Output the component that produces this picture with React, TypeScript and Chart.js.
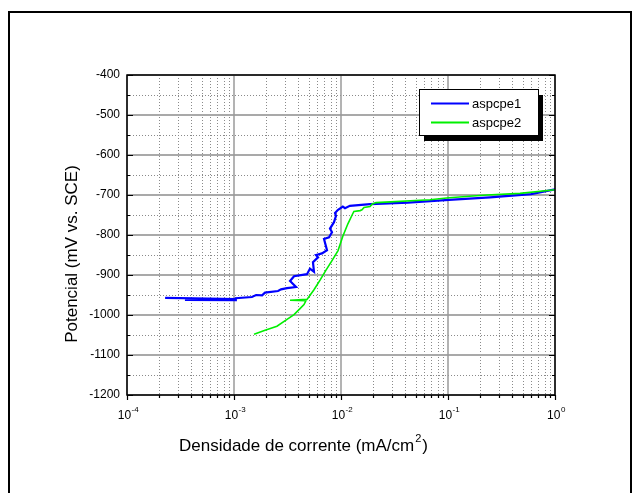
import React, { useEffect, useRef } from 'react';
import { Chart, registerables } from 'chart.js';
Chart.register(...registerables);

const seriesNames = ['aspcpe1', 'aspcpe2'];
const seriesColors = ['#0000ff', '#00f000'];

const blueCurrent = [2.27e-4, 1.04e-3, 3.48e-4, 1.04e-3, 1.04e-3, 1.47e-3, 1.61e-3, 1.83e-3, 1.95e-3, 2.58e-3, 2.75e-3, 3.13e-3, 3.80e-3, 3.34e-3, 3.64e-3, 4.81e-3, 5.13e-3, 5.59e-3, 5.47e-3, 6.10e-3, 5.84e-3, 6.64e-3, 7.40e-3, 6.94e-3, 7.73e-3, 8.24e-3, 7.89e-3, 8.60e-3, 8.98e-3, 8.79e-3, 9.38e-3, 1.04e-2, 1.09e-2, 1.21e-2, 1.87e-2, 4.23e-2, 0.102, 0.247, 0.597, 1.0];
const bluePotential = [-957, -960, -962, -963, -958, -955, -950, -951, -944, -940, -936, -933, -930, -915, -903, -898, -884, -892, -868, -856, -850, -846, -838, -810, -806, -793, -784, -768, -752, -745, -737, -729, -733, -727, -723, -719, -712, -706, -698, -686];

const greenCurrent = [1.54e-3, 1.95e-3, 2.52e-3, 3.13e-3, 3.64e-3, 4.14e-3, 4.51e-3, 4.71e-3, 3.34e-3, 4.81e-3, 5.59e-3, 6.37e-3, 7.24e-3, 8.24e-3, 9.38e-3, 1.04e-2, 1.16e-2, 1.27e-2, 1.32e-2, 1.51e-2, 1.57e-2, 1.64e-2, 1.87e-2, 1.95e-2, 2.12e-2, 6.79e-2, 0.102, 0.231, 0.471, 1.0];
const greenPotential = [-1048, -1038, -1028, -1011, -999, -984, -974, -964, -963, -961, -937, -913, -888, -864, -839, -803, -772, -750, -741, -739, -737, -731, -729, -723, -719, -712, -707, -700, -696, -687];

const xTickValues = [1e-4, 1e-3, 1e-2, 1e-1, 1];
const xTickBase = '10';
const xTickExps = ['-4', '-3', '-2', '-1', '0'];
const xMinorMultipliers = [2, 3, 4, 5, 6, 7, 8, 9];
const yTickValues = [-1200, -1100, -1000, -900, -800, -700, -600, -500, -400];
const yMinorValues = [-1150, -1050, -950, -850, -750, -650, -550, -450];

const xTitle = 'Densidade de corrente (mA/cm';
const xTitleSup = '2';
const xTitleEnd = ')';
const yTitle = 'Potencial (mV vs. SCE)';

const FONT = '"Liberation Sans", Arial, Helvetica, sans-serif';

const decorPlugin = {
  id: 'decor',
  beforeDatasetsDraw(chart: any) {
    const { ctx, chartArea: a, scales } = chart;
    const xs = scales.x;
    const ys = scales.y;
    ctx.save();
    ctx.strokeStyle = '#8a8a8a';
    ctx.lineWidth = 1;
    ctx.setLineDash([1, 2]);
    for (let i = 0; i < xTickValues.length - 1; i++) {
      for (const m of xMinorMultipliers) {
        const px = Math.round(xs.getPixelForValue(xTickValues[i] * m)) + 0.5;
        ctx.beginPath();
        ctx.moveTo(px, a.top);
        ctx.lineTo(px, a.bottom);
        ctx.stroke();
      }
    }
    for (const v of yMinorValues) {
      const py = Math.round(ys.getPixelForValue(v)) + 0.5;
      ctx.beginPath();
      ctx.moveTo(a.left, py);
      ctx.lineTo(a.right, py);
      ctx.stroke();
    }
    ctx.setLineDash([]);
    ctx.strokeStyle = '#a9a9a9';
    ctx.lineWidth = 2;
    for (const v of yTickValues) {
      const py = Math.round(ys.getPixelForValue(v));
      ctx.beginPath();
      ctx.moveTo(a.left, py);
      ctx.lineTo(a.right, py);
      ctx.stroke();
    }
    ctx.strokeStyle = '#9a9a9a';
    ctx.lineWidth = 1.5;
    for (const v of xTickValues) {
      const px = Math.round(xs.getPixelForValue(v));
      ctx.beginPath();
      ctx.moveTo(px, a.top);
      ctx.lineTo(px, a.bottom);
      ctx.stroke();
    }
    ctx.restore();
  },
  afterDatasetsDraw(chart: any) {
    const { ctx, chartArea: a, scales } = chart;
    const xs = scales.x;
    const ys = scales.y;
    ctx.save();
    ctx.strokeStyle = '#000';
    ctx.lineWidth = 1.5;
    ctx.strokeRect(a.left, a.top, a.right - a.left, a.bottom - a.top);
    ctx.lineWidth = 1.2;
    ctx.beginPath();
    for (const v of yTickValues) {
      const py = Math.round(ys.getPixelForValue(v)) + 0.5;
      ctx.moveTo(a.left, py); ctx.lineTo(a.left + 6, py);
      ctx.moveTo(a.right, py); ctx.lineTo(a.right - 6, py);
    }
    for (const v of yMinorValues) {
      const py = Math.round(ys.getPixelForValue(v)) + 0.5;
      ctx.moveTo(a.left, py); ctx.lineTo(a.left + 3, py);
      ctx.moveTo(a.right, py); ctx.lineTo(a.right - 3, py);
    }
    for (const v of xTickValues) {
      const px = Math.round(xs.getPixelForValue(v)) + 0.5;
      ctx.moveTo(px, a.bottom); ctx.lineTo(px, a.bottom + 5);
    }
    for (let i = 0; i < xTickValues.length - 1; i++) {
      for (const m of xMinorMultipliers) {
        const px = Math.round(xs.getPixelForValue(xTickValues[i] * m)) + 0.5;
        ctx.moveTo(px, a.bottom); ctx.lineTo(px, a.bottom + 3);
      }
    }
    ctx.stroke();

    ctx.fillStyle = '#000';
    ctx.textBaseline = 'alphabetic';
    ctx.textAlign = 'left';
    xTickValues.forEach((v, i) => {
      const px = xs.getPixelForValue(v);
      ctx.font = `12px ${FONT}`;
      const wb = ctx.measureText(xTickBase).width;
      ctx.font = `8px ${FONT}`;
      const we = ctx.measureText(xTickExps[i]).width;
      const x0 = px - (wb + we) / 2 + 1;
      ctx.font = `12px ${FONT}`;
      ctx.fillText(xTickBase, x0, a.bottom + 24);
      ctx.font = `8px ${FONT}`;
      ctx.fillText(xTickExps[i], x0 + wb + 0.5, a.bottom + 17);
    });

    ctx.font = `17px ${FONT}`;
    const w1 = ctx.measureText(xTitle).width;
    const w3 = ctx.measureText(xTitleEnd).width;
    ctx.font = `11px ${FONT}`;
    const w2 = ctx.measureText(xTitleSup).width;
    const total = w1 + w2 + 2 + w3;
    let tx = 303.5 - total / 2;
    const ty = 451;
    ctx.font = `17px ${FONT}`;
    ctx.fillText(xTitle, tx, ty);
    tx += w1 + 1;
    ctx.font = `11px ${FONT}`;
    ctx.fillText(xTitleSup, tx, ty - 9);
    tx += w2 + 1;
    ctx.font = `17px ${FONT}`;
    ctx.fillText(xTitleEnd, tx, ty);

    ctx.save();
    ctx.translate(77, 254);
    ctx.rotate(-Math.PI / 2);
    ctx.textAlign = 'center';
    ctx.font = `17px ${FONT}`;
    ctx.fillText(yTitle, 0, 0);
    ctx.restore();

    const lx = 419, ly = 89, lw = 119, lh = 46;
    ctx.fillStyle = '#000';
    ctx.fillRect(lx + 5, ly + 6, lw, lh);
    ctx.fillStyle = '#fff';
    ctx.fillRect(lx, ly, lw, lh);
    ctx.strokeStyle = '#000';
    ctx.lineWidth = 1;
    ctx.strokeRect(lx + 0.5, ly + 0.5, lw, lh);
    chart.data.datasets.forEach((ds: any, i: number) => {
      const ry = ly + 14 + i * 19;
      ctx.strokeStyle = ds.borderColor;
      ctx.lineWidth = 2;
      ctx.beginPath();
      ctx.moveTo(431, ry + 0.5);
      ctx.lineTo(469, ry + 0.5);
      ctx.stroke();
      ctx.fillStyle = '#000';
      ctx.font = `13px ${FONT}`;
      ctx.textAlign = 'left';
      ctx.textBaseline = 'middle';
      ctx.fillText(ds.label, 472, ry + 1);
    });

    ctx.strokeStyle = '#000';
    ctx.lineWidth = 2;
    ctx.strokeRect(9, 12, 622, 500);
    ctx.restore();
  },
};

export default function App() {
  const ref = useRef<HTMLCanvasElement | null>(null);
  useEffect(() => {
    if (!ref.current) return;
    const chart = new Chart(ref.current, {
      type: 'line',
      data: {
        datasets: [
          {
            label: seriesNames[0],
            data: blueCurrent.map((x, i) => ({ x, y: bluePotential[i] })),
            borderColor: seriesColors[0],
            borderWidth: 2.2,
            pointRadius: 0,
            tension: 0,
            fill: false,
            order: 2,
          },
          {
            label: seriesNames[1],
            data: greenCurrent.map((x, i) => ({ x, y: greenPotential[i] })),
            borderColor: seriesColors[1],
            borderWidth: 1.6,
            pointRadius: 0,
            tension: 0,
            fill: false,
            order: 1,
          },
        ],
      },
      options: {
        animation: false,
        responsive: false,
        maintainAspectRatio: false,
        layout: { padding: { top: 75, right: 85, left: 0, bottom: 0 } },
        plugins: {
          legend: { display: false },
          tooltip: { enabled: false },
          title: { display: false },
        },
        scales: {
          x: {
            type: 'logarithmic',
            min: 1e-4,
            max: 1,
            grid: { display: false, drawTicks: false },
            border: { display: false },
            ticks: { display: false },
            afterFit: (s: any) => { s.height = 98; },
          },
          y: {
            type: 'linear',
            min: -1200,
            max: -400,
            grid: { display: false, drawTicks: false },
            border: { display: false },
            ticks: {
              stepSize: 100,
              padding: 7,
              color: '#000',
              font: { family: FONT, size: 12 },
              callback: (v: any) => String(v),
            },
            afterBuildTicks: (s: any) => { s.ticks = yTickValues.map((v) => ({ value: v })); },
            afterFit: (s: any) => { s.width = 127; },
          },
        },
      },
      plugins: [decorPlugin],
    } as any);
    return () => chart.destroy();
  }, []);
  return (
    <div style={{ position: 'absolute', left: 0, top: 0, width: 640, height: 493, background: '#fff' }}>
      <canvas ref={ref} width={640} height={493} style={{ display: 'block', width: 640, height: 493 }} />
    </div>
  );
}
